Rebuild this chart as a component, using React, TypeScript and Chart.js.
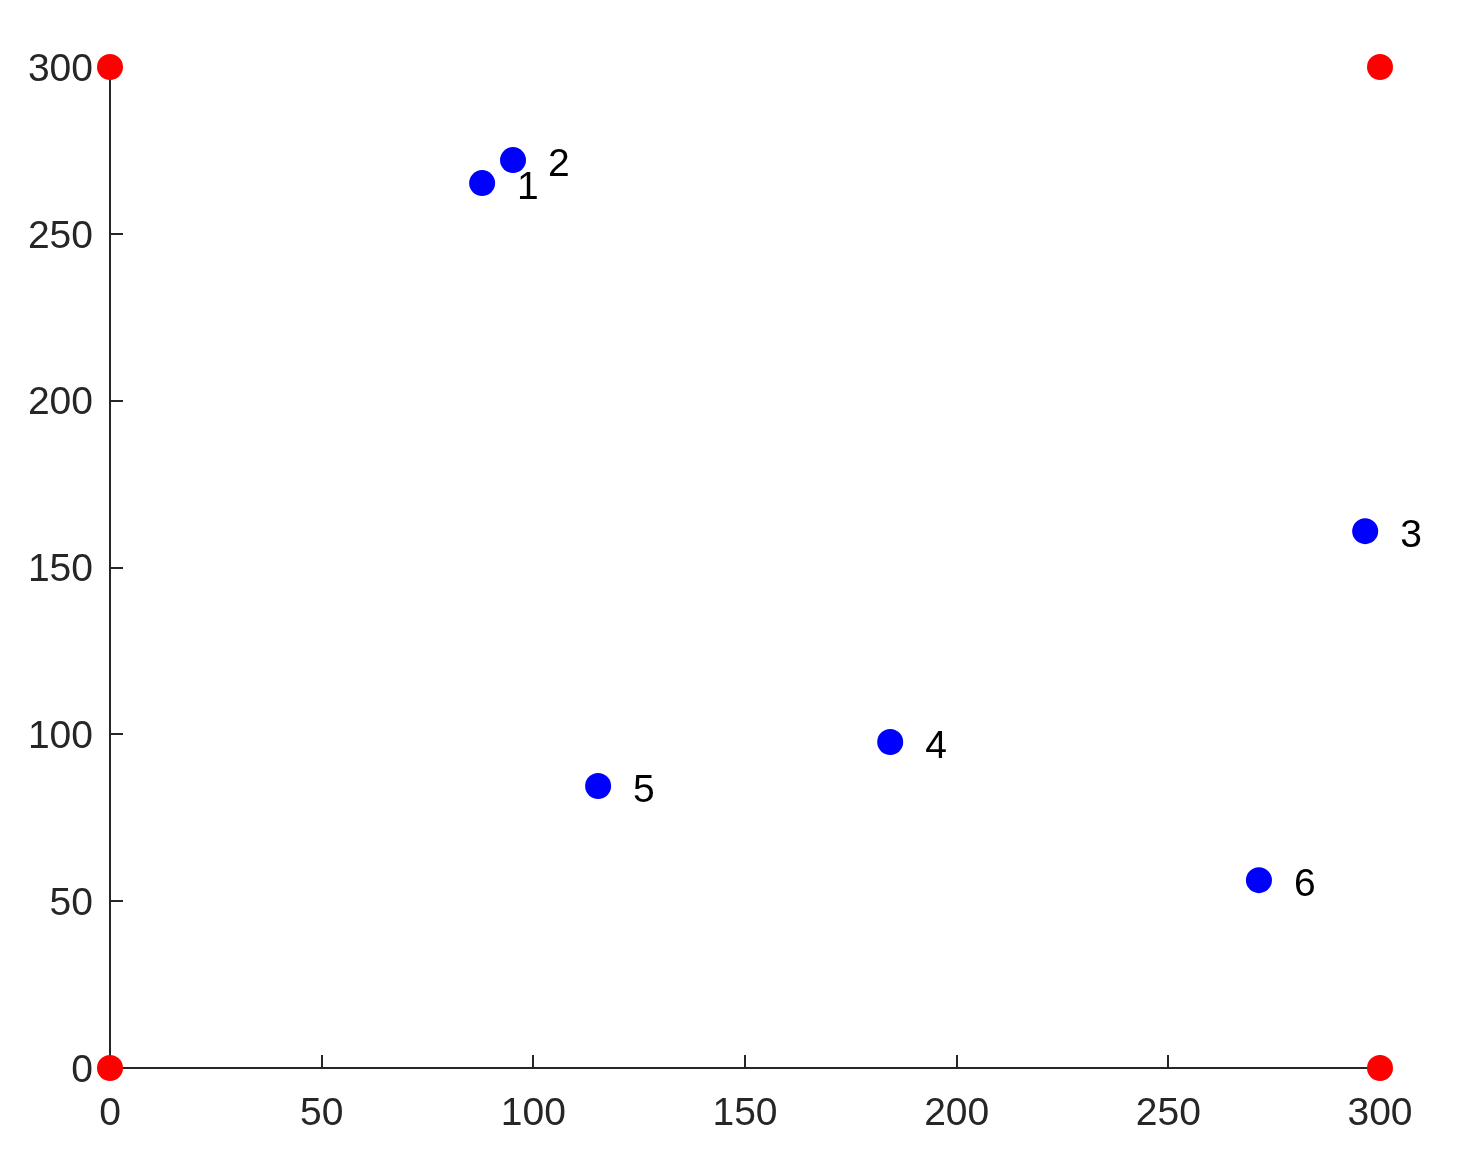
import React, { useEffect, useRef } from "react";
import { Chart, registerables } from "chart.js";

Chart.register(...registerables);

const pointLabels = ["1", "2", "3", "4", "5", "6"];
const xValues = [87.9, 95.2, 296.5, 184.3, 115.3, 271.4];
const yValues = [265.2, 272.1, 160.9, 97.7, 84.5, 56.3];
const cornerX = [0, 0, 300, 300];
const cornerY = [0, 300, 0, 300];
const axisMin = 0;
const axisMax = 300;
const tickStep = 50;

const FONT = "'Liberation Sans', Arial, Helvetica, sans-serif";
const FONT_SIZE = 39;

const insideTicks = {
  id: "insideTicks",
  beforeDatasetsDraw(chart: any) {
    const ctx = chart.ctx;
    const xs = chart.scales.x;
    const ys = chart.scales.y;
    const area = chart.chartArea;
    ctx.save();
    ctx.strokeStyle = "#262626";
    ctx.lineWidth = 2;
    ctx.beginPath();
    xs.ticks.forEach((t: any) => {
      const px = Math.round(xs.getPixelForValue(t.value));
      ctx.moveTo(px, area.bottom);
      ctx.lineTo(px, area.bottom - 13);
    });
    ys.ticks.forEach((t: any) => {
      const py = Math.round(ys.getPixelForValue(t.value));
      ctx.moveTo(area.left, py);
      ctx.lineTo(area.left + 13, py);
    });
    ctx.stroke();
    ctx.restore();
  },
};

const textLabels = {
  id: "textLabels",
  afterDatasetsDraw(chart: any) {
    const ctx = chart.ctx;
    const meta = chart.getDatasetMeta(0);
    ctx.save();
    ctx.fillStyle = "#000000";
    ctx.font = `${FONT_SIZE}px ${FONT}`;
    ctx.textAlign = "left";
    ctx.textBaseline = "middle";
    meta.data.forEach((el: any, i: number) => {
      ctx.fillText(pointLabels[i], el.x + 35, el.y + 5);
    });
    ctx.restore();
  },
};

export default function App() {
  const ref = useRef<HTMLCanvasElement>(null);

  useEffect(() => {
    document.body.style.margin = "0";
    const canvas = ref.current;
    if (!canvas) return;
    const blue = xValues.map((x, i) => ({ x, y: yValues[i] }));
    const red = cornerX.map((x, i) => ({ x, y: cornerY[i] }));
    const tickFont = { family: FONT, size: FONT_SIZE };
    const chart = new Chart(canvas, {
      type: "scatter",
      data: {
        datasets: [
          {
            data: blue,
            backgroundColor: "#0000ff",
            borderColor: "#0000ff",
            pointRadius: 13,
            borderWidth: 0,
            clip: false as any,
          },
          {
            data: red,
            backgroundColor: "#ff0000",
            borderColor: "#ff0000",
            pointRadius: 13,
            borderWidth: 0,
            clip: false as any,
          },
        ],
      },
      options: {
        animation: false,
        responsive: false,
        maintainAspectRatio: false,
        layout: { padding: { top: 67, right: 91, left: 0, bottom: 0 } },
        plugins: {
          legend: { display: false },
          tooltip: { enabled: false },
        },
        scales: {
          x: {
            type: "linear",
            min: axisMin,
            max: axisMax,
            afterFit(scale: any) {
              scale.height = 106;
            },
            ticks: {
              stepSize: tickStep,
              color: "#262626",
              font: tickFont,
              padding: 23,
              maxRotation: 0,
            },
            grid: { display: false, drawTicks: false },
            border: { display: true, color: "#262626", width: 2 },
          },
          y: {
            type: "linear",
            min: axisMin,
            max: axisMax,
            afterFit(scale: any) {
              scale.width = 110;
            },
            ticks: {
              stepSize: tickStep,
              color: "#262626",
              font: tickFont,
              padding: 17,
              labelOffset: 3,
            },
            grid: { display: false, drawTicks: false },
            border: { display: true, color: "#262626", width: 2 },
          },
        },
      },
      plugins: [insideTicks, textLabels],
    });
    return () => chart.destroy();
  }, []);

  return (
    <div style={{ width: 1471, height: 1174 }}>
      <canvas ref={ref} width={1471} height={1174} style={{ display: "block" }} />
    </div>
  );
}
